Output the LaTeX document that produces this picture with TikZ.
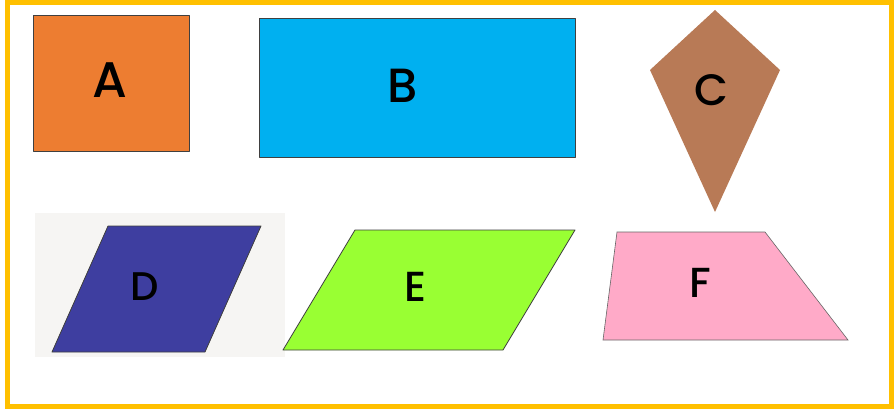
\documentclass[tikz,border=0pt]{standalone}
\usepackage{fontspec}
\newfontfamily\letterfont{Poppins Medium}
\definecolor{frameyellow}{RGB}{255,192,0}
\definecolor{orangeA}{RGB}{237,125,49}
\definecolor{blueB}{RGB}{0,176,240}
\definecolor{brownC}{RGB}{184,122,86}
\definecolor{indigoD}{RGB}{62,62,160}
\definecolor{paperD}{RGB}{246,245,243}
\definecolor{greenE}{RGB}{153,255,51}
\definecolor{pinkF}{RGB}{255,170,200}
\tikzset{
  edge/.style={draw=black!75, line width=0.8pt, line join=round},
  letter/.style={font=\letterfont\fontsize{#1}{#1}\selectfont, text=black, inner sep=0pt}
}
\begin{document}
\begin{tikzpicture}[x=1pt, y=-1pt]
    \useasboundingbox (0,0) rectangle (894,409);
    \fill[white] (0,0) rectangle (894,409);
    \draw[frameyellow, line width=5pt] (7,2.5) rectangle (891.5,406.5);
    % top row
    \filldraw[orangeA, edge] (33,15) rectangle (189,151);
    \node[letter=50] (a) at (110,80) {A};
    \filldraw[blueB, edge] (259,18) rectangle (575,157);
    \node[letter=48] (b) at (403,86) {B};
    \fill[brownC] (715,10) -- (780,70) -- (715,212) -- (650,70) -- cycle;
    \node[letter=44] (c) at (711,90) {C};
    % bottom row
    \fill[paperD] (35,213) rectangle (285,357);
    \filldraw[indigoD, edge] (108,226) -- (261,226) -- (205,352) -- (52,352) -- cycle;
    \node[letter=40] (d) at (145,287) {D};
    \filldraw[greenE, edge] (355,230) -- (575,230) -- (503,350) -- (283,350) -- cycle;
    \node[letter=42] (e) at (415,287) {E};
    \filldraw[pinkF, draw=black!60, line width=0.6pt] (617,232) -- (765,232) -- (848,340) -- (603,340) -- cycle;
    \node[letter=42] (f) at (700,283) {F};
\end{tikzpicture}
\end{document}
